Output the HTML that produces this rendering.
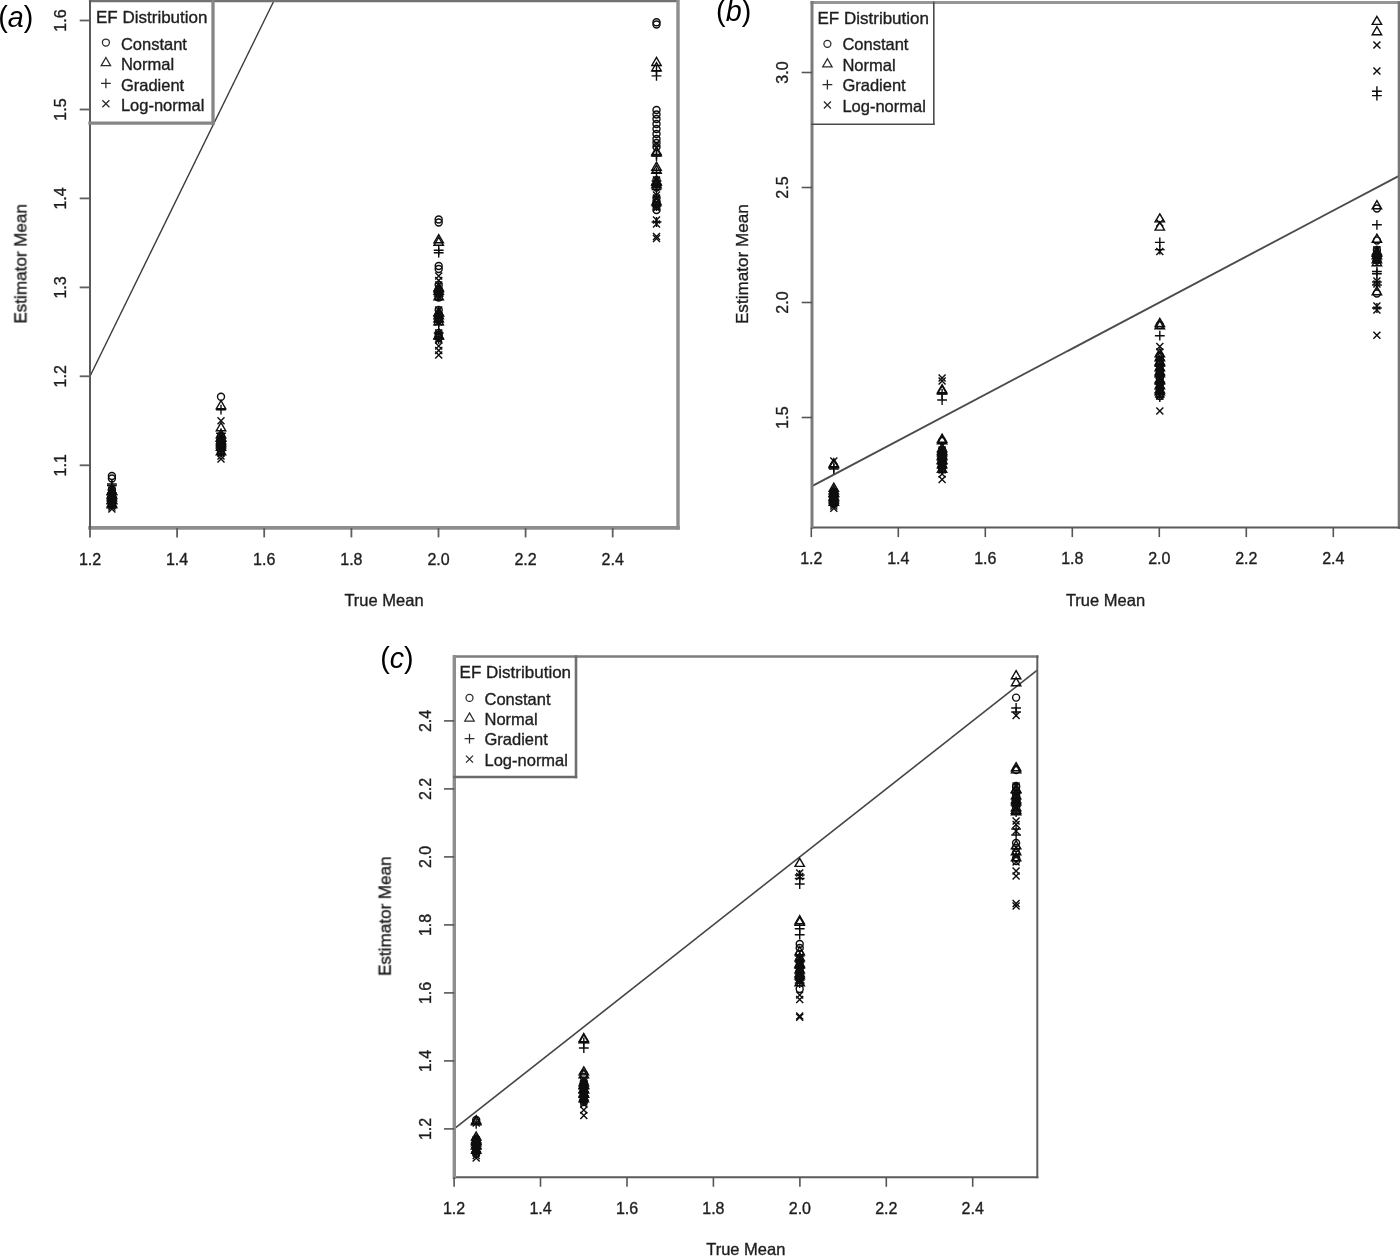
<!DOCTYPE html>
<html lang="en"><head><meta charset="utf-8"><title>Estimator Mean vs True Mean</title>
<style>
html,body{margin:0;padding:0;background:#fff;}
body{width:1400px;height:1257px;overflow:hidden;}
svg{display:block;}
</style></head>
<body>
<svg width="1400" height="1257" viewBox="0 0 1400 1257">
<defs><filter id="bl" x="0" y="0" width="1400" height="1257" filterUnits="userSpaceOnUse"><feGaussianBlur stdDeviation="0.75"/></filter></defs>
<rect width="1400" height="1257" fill="#fff"/>
<g filter="url(#bl)" fill="#1e1e1e" stroke="#1e1e1e" stroke-width="0.35" font-family="Liberation Sans, Arial, Helvetica, sans-serif">
<line x1="90.0" y1="376.3" x2="273.7" y2="1.2" stroke="#3a3a3a" stroke-width="1.4"/>
<line x1="90.0" y1="1.2" x2="678.0" y2="1.2" stroke="#727272" stroke-width="2.2" stroke-linecap="square"/>
<line x1="678.0" y1="1.2" x2="678.0" y2="527.9" stroke="#8e8e8e" stroke-width="3.4" stroke-linecap="square"/>
<line x1="90.0" y1="527.9" x2="678.0" y2="527.9" stroke="#8e8e8e" stroke-width="3.6" stroke-linecap="square"/>
<line x1="90.0" y1="1.2" x2="90.0" y2="527.9" stroke="#5a5a5a" stroke-width="2.0" stroke-linecap="square"/>
<line x1="90.0" y1="527.9" x2="90.0" y2="537.4" stroke="#5e5e5e" stroke-width="1.8"/>
<text x="90.0" y="564.5" text-anchor="middle" font-size="16">1.2</text>
<line x1="177.1" y1="527.9" x2="177.1" y2="537.4" stroke="#5e5e5e" stroke-width="1.8"/>
<text x="177.1" y="564.5" text-anchor="middle" font-size="16">1.4</text>
<line x1="264.2" y1="527.9" x2="264.2" y2="537.4" stroke="#5e5e5e" stroke-width="1.8"/>
<text x="264.2" y="564.5" text-anchor="middle" font-size="16">1.6</text>
<line x1="351.4" y1="527.9" x2="351.4" y2="537.4" stroke="#5e5e5e" stroke-width="1.8"/>
<text x="351.4" y="564.5" text-anchor="middle" font-size="16">1.8</text>
<line x1="438.5" y1="527.9" x2="438.5" y2="537.4" stroke="#5e5e5e" stroke-width="1.8"/>
<text x="438.5" y="564.5" text-anchor="middle" font-size="16">2.0</text>
<line x1="525.6" y1="527.9" x2="525.6" y2="537.4" stroke="#5e5e5e" stroke-width="1.8"/>
<text x="525.6" y="564.5" text-anchor="middle" font-size="16">2.2</text>
<line x1="612.7" y1="527.9" x2="612.7" y2="537.4" stroke="#5e5e5e" stroke-width="1.8"/>
<text x="612.7" y="564.5" text-anchor="middle" font-size="16">2.4</text>
<line x1="79.7" y1="465.3" x2="90.0" y2="465.3" stroke="#5e5e5e" stroke-width="1.8"/>
<text transform="translate(66.2 465.3) rotate(-90)" text-anchor="middle" font-size="16">1.1</text>
<line x1="79.7" y1="376.3" x2="90.0" y2="376.3" stroke="#5e5e5e" stroke-width="1.8"/>
<text transform="translate(66.2 376.3) rotate(-90)" text-anchor="middle" font-size="16">1.2</text>
<line x1="79.7" y1="287.4" x2="90.0" y2="287.4" stroke="#5e5e5e" stroke-width="1.8"/>
<text transform="translate(66.2 287.4) rotate(-90)" text-anchor="middle" font-size="16">1.3</text>
<line x1="79.7" y1="198.4" x2="90.0" y2="198.4" stroke="#5e5e5e" stroke-width="1.8"/>
<text transform="translate(66.2 198.4) rotate(-90)" text-anchor="middle" font-size="16">1.4</text>
<line x1="79.7" y1="109.5" x2="90.0" y2="109.5" stroke="#5e5e5e" stroke-width="1.8"/>
<text transform="translate(66.2 109.5) rotate(-90)" text-anchor="middle" font-size="16">1.5</text>
<line x1="79.7" y1="20.5" x2="90.0" y2="20.5" stroke="#5e5e5e" stroke-width="1.8"/>
<text transform="translate(66.2 20.5) rotate(-90)" text-anchor="middle" font-size="16">1.6</text>
<text x="384.0" y="605.9" text-anchor="middle" font-size="16.5">True Mean</text>
<text transform="translate(26.4 263.8) rotate(-90)" text-anchor="middle" font-size="17.1">Estimator Mean</text>
<line x1="213.0" y1="1.2" x2="213.0" y2="123.2" stroke="#868686" stroke-width="3.3" stroke-linecap="square"/>
<line x1="90.0" y1="123.2" x2="213.0" y2="123.2" stroke="#868686" stroke-width="3.3" stroke-linecap="square"/>
<text x="96.0" y="23.3" font-size="17">EF Distribution</text>
<g fill="none" stroke="#2a2a2a" stroke-width="1.25">
<circle cx="105.9" cy="42.5" r="3.50"/>
<path d="M105.9 57.5L110.6 65.6L101.2 65.6Z"/>
<path d="M101.0 83.3H110.8M105.9 78.4V88.2"/>
<path d="M102.4 100.2L109.4 107.2M102.4 107.2L109.4 100.2"/>
</g>
<text x="120.9" y="50.0" font-size="16.5">Constant</text>
<text x="120.9" y="70.4" font-size="16.5">Normal</text>
<text x="120.9" y="90.8" font-size="16.5">Gradient</text>
<text x="120.9" y="111.2" font-size="16.5">Log-normal</text>
<g fill="none" stroke="#0c0c0c" stroke-width="1.4">
<circle cx="111.9" cy="490.0" r="3.50"/><path d="M108.4 486.5L115.4 493.5M108.4 493.5L115.4 486.5"/><path d="M111.9 486.1L116.6 494.2L107.2 494.2Z"/><path d="M107.0 493.0H116.8M111.9 488.1V497.9"/><path d="M108.4 489.5L115.4 496.5M108.4 496.5L115.4 489.5"/><circle cx="111.9" cy="494.5" r="3.50"/><path d="M111.9 490.6L116.6 498.7L107.2 498.7Z"/><path d="M108.4 492.5L115.4 499.5M108.4 499.5L115.4 492.5"/><path d="M107.0 497.5H116.8M111.9 492.6V502.4"/><circle cx="111.9" cy="499.0" r="3.50"/><path d="M108.4 495.5L115.4 502.5M108.4 502.5L115.4 495.5"/><path d="M111.9 495.1L116.6 503.2L107.2 503.2Z"/><path d="M107.0 502.0H116.8M111.9 497.1V506.9"/><path d="M108.4 498.5L115.4 505.5M108.4 505.5L115.4 498.5"/><circle cx="111.9" cy="503.5" r="3.50"/><path d="M111.9 499.6L116.6 507.7L107.2 507.7Z"/><path d="M108.4 501.5L115.4 508.5M108.4 508.5L115.4 501.5"/><circle cx="111.9" cy="476.0" r="3.50"/><circle cx="111.9" cy="478.5" r="3.50"/><circle cx="111.9" cy="490.0" r="3.50"/><circle cx="111.9" cy="494.0" r="3.50"/><circle cx="111.9" cy="498.0" r="3.50"/><circle cx="111.9" cy="502.0" r="3.50"/><path d="M111.9 486.6L116.6 494.7L107.2 494.7Z"/><path d="M111.9 489.6L116.6 497.7L107.2 497.7Z"/><path d="M111.9 492.6L116.6 500.7L107.2 500.7Z"/><path d="M111.9 495.6L116.6 503.7L107.2 503.7Z"/><path d="M111.9 498.6L116.6 506.7L107.2 506.7Z"/><path d="M107.0 484.0H116.8M111.9 479.1V488.9"/><path d="M107.0 485.5H116.8M111.9 480.6V490.4"/><path d="M107.0 497.0H116.8M111.9 492.1V501.9"/><path d="M107.0 500.0H116.8M111.9 495.1V504.9"/><path d="M107.0 503.0H116.8M111.9 498.1V507.9"/><path d="M108.4 495.5L115.4 502.5M108.4 502.5L115.4 495.5"/><path d="M108.4 498.5L115.4 505.5M108.4 505.5L115.4 498.5"/><path d="M108.4 501.5L115.4 508.5M108.4 508.5L115.4 501.5"/><path d="M108.4 503.5L115.4 510.5M108.4 510.5L115.4 503.5"/><path d="M108.4 505.5L115.4 512.5M108.4 512.5L115.4 505.5"/>
<circle cx="221.0" cy="437.0" r="3.50"/><path d="M217.5 433.5L224.5 440.5M217.5 440.5L224.5 433.5"/><path d="M221.0 433.1L225.7 441.2L216.3 441.2Z"/><path d="M216.1 440.0H225.9M221.0 435.1V444.9"/><path d="M217.5 436.5L224.5 443.5M217.5 443.5L224.5 436.5"/><circle cx="221.0" cy="441.5" r="3.50"/><path d="M221.0 437.6L225.7 445.7L216.3 445.7Z"/><path d="M217.5 439.5L224.5 446.5M217.5 446.5L224.5 439.5"/><path d="M216.1 444.5H225.9M221.0 439.6V449.4"/><circle cx="221.0" cy="446.0" r="3.50"/><path d="M217.5 442.5L224.5 449.5M217.5 449.5L224.5 442.5"/><path d="M221.0 442.1L225.7 450.2L216.3 450.2Z"/><path d="M216.1 449.0H225.9M221.0 444.1V453.9"/><path d="M217.5 445.5L224.5 452.5M217.5 452.5L224.5 445.5"/><circle cx="221.0" cy="450.5" r="3.50"/><path d="M221.0 446.6L225.7 454.7L216.3 454.7Z"/><path d="M217.5 448.5L224.5 455.5M217.5 455.5L224.5 448.5"/><circle cx="221.0" cy="396.8" r="3.50"/><circle cx="221.0" cy="436.0" r="3.50"/><circle cx="221.0" cy="440.0" r="3.50"/><circle cx="221.0" cy="444.0" r="3.50"/><circle cx="221.0" cy="448.0" r="3.50"/><circle cx="221.0" cy="452.0" r="3.50"/><path d="M221.0 400.6L225.7 408.7L216.3 408.7Z"/><path d="M221.0 422.6L225.7 430.7L216.3 430.7Z"/><path d="M221.0 429.6L225.7 437.7L216.3 437.7Z"/><path d="M221.0 432.6L225.7 440.7L216.3 440.7Z"/><path d="M221.0 435.6L225.7 443.7L216.3 443.7Z"/><path d="M221.0 439.6L225.7 447.7L216.3 447.7Z"/><path d="M216.1 409.7H225.9M221.0 404.8V414.6"/><path d="M216.1 433.3H225.9M221.0 428.4V438.2"/><path d="M216.1 438.0H225.9M221.0 433.1V442.9"/><path d="M216.1 442.0H225.9M221.0 437.1V446.9"/><path d="M216.1 446.0H225.9M221.0 441.1V450.9"/><path d="M216.1 450.0H225.9M221.0 445.1V454.9"/><path d="M217.5 417.3L224.5 424.3M217.5 424.3L224.5 417.3"/><path d="M217.5 442.5L224.5 449.5M217.5 449.5L224.5 442.5"/><path d="M217.5 446.5L224.5 453.5M217.5 453.5L224.5 446.5"/><path d="M217.5 449.5L224.5 456.5M217.5 456.5L224.5 449.5"/><path d="M217.5 452.5L224.5 459.5M217.5 459.5L224.5 452.5"/><path d="M217.5 455.5L224.5 462.5M217.5 462.5L224.5 455.5"/>
<circle cx="438.7" cy="285.0" r="3.50"/><path d="M435.2 281.5L442.2 288.5M435.2 288.5L442.2 281.5"/><path d="M438.7 282.6L443.4 290.7L434.0 290.7Z"/><path d="M433.8 291.0H443.6M438.7 286.1V295.9"/><path d="M435.2 287.5L442.2 294.5M435.2 294.5L442.2 287.5"/><circle cx="438.7" cy="294.0" r="3.50"/><path d="M438.7 291.6L443.4 299.7L434.0 299.7Z"/><path d="M435.2 293.5L442.2 300.5M435.2 300.5L442.2 293.5"/><circle cx="438.7" cy="310.0" r="3.50"/><path d="M435.2 306.5L442.2 313.5M435.2 313.5L442.2 306.5"/><path d="M438.7 307.6L443.4 315.7L434.0 315.7Z"/><path d="M433.8 316.0H443.6M438.7 311.1V320.9"/><path d="M435.2 312.5L442.2 319.5M435.2 319.5L442.2 312.5"/><circle cx="438.7" cy="319.0" r="3.50"/><path d="M438.7 316.6L443.4 324.7L434.0 324.7Z"/><path d="M435.2 318.5L442.2 325.5M435.2 325.5L442.2 318.5"/><circle cx="438.7" cy="333.0" r="3.50"/><path d="M435.2 329.5L442.2 336.5M435.2 336.5L442.2 329.5"/><path d="M438.7 330.6L443.4 338.7L434.0 338.7Z"/><path d="M433.8 339.0H443.6M438.7 334.1V343.9"/><path d="M435.2 335.5L442.2 342.5M435.2 342.5L442.2 335.5"/><circle cx="438.7" cy="219.5" r="3.50"/><circle cx="438.7" cy="222.5" r="3.50"/><circle cx="438.7" cy="266.0" r="3.50"/><circle cx="438.7" cy="269.0" r="3.50"/><circle cx="438.7" cy="290.0" r="3.50"/><circle cx="438.7" cy="294.0" r="3.50"/><circle cx="438.7" cy="297.5" r="3.50"/><circle cx="438.7" cy="315.0" r="3.50"/><circle cx="438.7" cy="320.0" r="3.50"/><circle cx="438.7" cy="335.0" r="3.50"/><circle cx="438.7" cy="338.0" r="3.50"/><path d="M438.7 234.6L443.4 242.7L434.0 242.7Z"/><path d="M438.7 237.2L443.4 245.3L434.0 245.3Z"/><path d="M438.7 283.6L443.4 291.7L434.0 291.7Z"/><path d="M438.7 286.1L443.4 294.2L434.0 294.2Z"/><path d="M438.7 307.6L443.4 315.7L434.0 315.7Z"/><path d="M438.7 310.6L443.4 318.7L434.0 318.7Z"/><path d="M438.7 313.6L443.4 321.7L434.0 321.7Z"/><path d="M438.7 330.6L443.4 338.7L434.0 338.7Z"/><path d="M433.8 250.2H443.6M438.7 245.3V255.1"/><path d="M433.8 252.7H443.6M438.7 247.8V257.6"/><path d="M433.8 292.0H443.6M438.7 287.1V296.9"/><path d="M433.8 296.0H443.6M438.7 291.1V300.9"/><path d="M433.8 318.0H443.6M438.7 313.1V322.9"/><path d="M433.8 322.0H443.6M438.7 317.1V326.9"/><path d="M433.8 324.6H443.6M438.7 319.7V329.5"/><path d="M433.8 333.0H443.6M438.7 328.1V337.9"/><path d="M435.2 272.5L442.2 279.5M435.2 279.5L442.2 272.5"/><path d="M435.2 277.0L442.2 284.0M435.2 284.0L442.2 277.0"/><path d="M435.2 336.5L442.2 343.5M435.2 343.5L442.2 336.5"/><path d="M435.2 342.5L442.2 349.5M435.2 349.5L442.2 342.5"/><path d="M435.2 347.0L442.2 354.0M435.2 354.0L442.2 347.0"/><path d="M435.2 351.5L442.2 358.5M435.2 358.5L442.2 351.5"/>
<circle cx="656.5" cy="180.0" r="3.50"/><path d="M653.0 176.5L660.0 183.5M653.0 183.5L660.0 176.5"/><path d="M656.5 177.1L661.2 185.2L651.8 185.2Z"/><path d="M651.6 185.0H661.4M656.5 180.1V189.9"/><path d="M653.0 181.5L660.0 188.5M653.0 188.5L660.0 181.5"/><circle cx="656.5" cy="187.5" r="3.50"/><circle cx="656.5" cy="198.0" r="3.50"/><path d="M653.0 194.5L660.0 201.5M653.0 201.5L660.0 194.5"/><path d="M656.5 196.6L661.2 204.7L651.8 204.7Z"/><path d="M651.6 206.0H661.4M656.5 201.1V210.9"/><path d="M653.0 202.5L660.0 209.5M653.0 209.5L660.0 202.5"/><circle cx="656.5" cy="210.0" r="3.50"/><circle cx="656.5" cy="22.2" r="3.50"/><circle cx="656.5" cy="24.5" r="3.50"/><circle cx="656.5" cy="110.0" r="3.50"/><circle cx="656.5" cy="114.5" r="3.50"/><circle cx="656.5" cy="119.0" r="3.50"/><circle cx="656.5" cy="124.0" r="3.50"/><circle cx="656.5" cy="129.0" r="3.50"/><circle cx="656.5" cy="134.0" r="3.50"/><circle cx="656.5" cy="139.0" r="3.50"/><circle cx="656.5" cy="143.0" r="3.50"/><circle cx="656.5" cy="147.0" r="3.50"/><circle cx="656.5" cy="202.0" r="3.50"/><circle cx="656.5" cy="206.0" r="3.50"/><path d="M656.5 57.4L661.2 65.5L651.8 65.5Z"/><path d="M656.5 62.6L661.2 70.7L651.8 70.7Z"/><path d="M656.5 146.6L661.2 154.7L651.8 154.7Z"/><path d="M656.5 147.8L661.2 155.9L651.8 155.9Z"/><path d="M656.5 162.1L661.2 170.2L651.8 170.2Z"/><path d="M656.5 165.1L661.2 173.2L651.8 173.2Z"/><path d="M656.5 176.6L661.2 184.7L651.8 184.7Z"/><path d="M656.5 179.6L661.2 187.7L651.8 187.7Z"/><path d="M651.6 71.0H661.4M656.5 66.1V75.9"/><path d="M651.6 75.9H661.4M656.5 71.0V80.8"/><path d="M651.6 154.5H661.4M656.5 149.6V159.4"/><path d="M651.6 156.0H661.4M656.5 151.1V160.9"/><path d="M651.6 172.5H661.4M656.5 167.6V177.4"/><path d="M651.6 181.0H661.4M656.5 176.1V185.9"/><path d="M651.6 184.0H661.4M656.5 179.1V188.9"/><path d="M651.6 187.0H661.4M656.5 182.1V191.9"/><path d="M651.6 189.5H661.4M656.5 184.6V194.4"/><path d="M651.6 222.0H661.4M656.5 217.1V226.9"/><path d="M653.0 140.5L660.0 147.5M653.0 147.5L660.0 140.5"/><path d="M653.0 191.5L660.0 198.5M653.0 198.5L660.0 191.5"/><path d="M653.0 195.5L660.0 202.5M653.0 202.5L660.0 195.5"/><path d="M653.0 200.5L660.0 207.5M653.0 207.5L660.0 200.5"/><path d="M653.0 204.5L660.0 211.5M653.0 211.5L660.0 204.5"/><path d="M653.0 216.5L660.0 223.5M653.0 223.5L660.0 216.5"/><path d="M653.0 220.5L660.0 227.5M653.0 227.5L660.0 220.5"/><path d="M653.0 233.0L660.0 240.0M653.0 240.0L660.0 233.0"/><path d="M653.0 235.0L660.0 242.0M653.0 242.0L660.0 235.0"/>
</g>
<line x1="811.3" y1="486.5" x2="1399.0" y2="175.8" stroke="#4c4c4c" stroke-width="1.9"/>
<line x1="812.0" y1="2.5" x2="1399.0" y2="2.5" stroke="#959595" stroke-width="3.0" stroke-linecap="square"/>
<line x1="1399.0" y1="2.5" x2="1399.0" y2="527.6" stroke="#777" stroke-width="2.6" stroke-linecap="square"/>
<line x1="812.0" y1="527.6" x2="1399.0" y2="527.6" stroke="#5a5a5a" stroke-width="2.0" stroke-linecap="square"/>
<line x1="812.0" y1="2.5" x2="812.0" y2="527.6" stroke="#7c7c7c" stroke-width="3.0" stroke-linecap="square"/>
<line x1="811.3" y1="527.6" x2="811.3" y2="537.1" stroke="#555" stroke-width="1.6"/>
<text x="811.3" y="564.2" text-anchor="middle" font-size="16">1.2</text>
<line x1="898.3" y1="527.6" x2="898.3" y2="537.1" stroke="#555" stroke-width="1.6"/>
<text x="898.3" y="564.2" text-anchor="middle" font-size="16">1.4</text>
<line x1="985.3" y1="527.6" x2="985.3" y2="537.1" stroke="#555" stroke-width="1.6"/>
<text x="985.3" y="564.2" text-anchor="middle" font-size="16">1.6</text>
<line x1="1072.3" y1="527.6" x2="1072.3" y2="537.1" stroke="#555" stroke-width="1.6"/>
<text x="1072.3" y="564.2" text-anchor="middle" font-size="16">1.8</text>
<line x1="1159.3" y1="527.6" x2="1159.3" y2="537.1" stroke="#555" stroke-width="1.6"/>
<text x="1159.3" y="564.2" text-anchor="middle" font-size="16">2.0</text>
<line x1="1246.3" y1="527.6" x2="1246.3" y2="537.1" stroke="#555" stroke-width="1.6"/>
<text x="1246.3" y="564.2" text-anchor="middle" font-size="16">2.2</text>
<line x1="1333.3" y1="527.6" x2="1333.3" y2="537.1" stroke="#555" stroke-width="1.6"/>
<text x="1333.3" y="564.2" text-anchor="middle" font-size="16">2.4</text>
<line x1="801.7" y1="417.5" x2="812.0" y2="417.5" stroke="#555" stroke-width="1.6"/>
<text transform="translate(788.2 417.5) rotate(-90)" text-anchor="middle" font-size="16">1.5</text>
<line x1="801.7" y1="302.5" x2="812.0" y2="302.5" stroke="#555" stroke-width="1.6"/>
<text transform="translate(788.2 302.5) rotate(-90)" text-anchor="middle" font-size="16">2.0</text>
<line x1="801.7" y1="187.5" x2="812.0" y2="187.5" stroke="#555" stroke-width="1.6"/>
<text transform="translate(788.2 187.5) rotate(-90)" text-anchor="middle" font-size="16">2.5</text>
<line x1="801.7" y1="72.5" x2="812.0" y2="72.5" stroke="#555" stroke-width="1.6"/>
<text transform="translate(788.2 72.5) rotate(-90)" text-anchor="middle" font-size="16">3.0</text>
<text x="1105.5" y="605.6" text-anchor="middle" font-size="16.5">True Mean</text>
<text transform="translate(748.4 264.2) rotate(-90)" text-anchor="middle" font-size="17.1">Estimator Mean</text>
<line x1="933.8" y1="2.5" x2="933.8" y2="124.2" stroke="#4a4a4a" stroke-width="1.6" stroke-linecap="square"/>
<line x1="812.0" y1="124.2" x2="933.8" y2="124.2" stroke="#4a4a4a" stroke-width="1.6" stroke-linecap="square"/>
<text x="817.5" y="23.7" font-size="17">EF Distribution</text>
<g fill="none" stroke="#2a2a2a" stroke-width="1.25">
<circle cx="827.4" cy="43.8" r="3.50"/>
<path d="M827.4 58.8L832.1 66.9L822.7 66.9Z"/>
<path d="M822.5 84.6H832.3M827.4 79.7V89.5"/>
<path d="M823.9 101.5L830.9 108.5M823.9 108.5L830.9 101.5"/>
</g>
<text x="842.4" y="50.4" font-size="16.5">Constant</text>
<text x="842.4" y="70.8" font-size="16.5">Normal</text>
<text x="842.4" y="91.2" font-size="16.5">Gradient</text>
<text x="842.4" y="111.6" font-size="16.5">Log-normal</text>
<g fill="none" stroke="#0c0c0c" stroke-width="1.4">
<circle cx="833.8" cy="492.0" r="3.50"/><path d="M830.3 488.5L837.3 495.5M830.3 495.5L837.3 488.5"/><path d="M833.8 488.1L838.5 496.2L829.1 496.2Z"/><path d="M828.9 495.0H838.7M833.8 490.1V499.9"/><path d="M830.3 491.5L837.3 498.5M830.3 498.5L837.3 491.5"/><circle cx="833.8" cy="496.5" r="3.50"/><path d="M833.8 492.6L838.5 500.7L829.1 500.7Z"/><path d="M830.3 494.5L837.3 501.5M830.3 501.5L837.3 494.5"/><path d="M828.9 499.5H838.7M833.8 494.6V504.4"/><circle cx="833.8" cy="501.0" r="3.50"/><path d="M830.3 497.5L837.3 504.5M830.3 504.5L837.3 497.5"/><path d="M833.8 497.1L838.5 505.2L829.1 505.2Z"/><path d="M828.9 504.0H838.7M833.8 499.1V508.9"/><path d="M830.3 500.5L837.3 507.5M830.3 507.5L837.3 500.5"/><circle cx="833.8" cy="492.0" r="3.50"/><circle cx="833.8" cy="496.0" r="3.50"/><circle cx="833.8" cy="500.0" r="3.50"/><circle cx="833.8" cy="503.0" r="3.50"/><path d="M833.8 458.6L838.5 466.7L829.1 466.7Z"/><path d="M833.8 459.8L838.5 467.9L829.1 467.9Z"/><path d="M833.8 483.1L838.5 491.2L829.1 491.2Z"/><path d="M833.8 485.6L838.5 493.7L829.1 493.7Z"/><path d="M833.8 488.6L838.5 496.7L829.1 496.7Z"/><path d="M833.8 491.6L838.5 499.7L829.1 499.7Z"/><path d="M833.8 494.6L838.5 502.7L829.1 502.7Z"/><path d="M828.9 467.5H838.7M833.8 462.6V472.4"/><path d="M828.9 469.0H838.7M833.8 464.1V473.9"/><path d="M828.9 497.0H838.7M833.8 492.1V501.9"/><path d="M828.9 501.0H838.7M833.8 496.1V505.9"/><path d="M828.9 504.0H838.7M833.8 499.1V508.9"/><path d="M830.3 457.5L837.3 464.5M830.3 464.5L837.3 457.5"/><path d="M830.3 496.5L837.3 503.5M830.3 503.5L837.3 496.5"/><path d="M830.3 499.5L837.3 506.5M830.3 506.5L837.3 499.5"/><path d="M830.3 502.5L837.3 509.5M830.3 509.5L837.3 502.5"/><path d="M830.3 504.8L837.3 511.8M830.3 511.8L837.3 504.8"/>
<circle cx="942.1" cy="450.0" r="3.50"/><path d="M938.6 446.5L945.6 453.5M938.6 453.5L945.6 446.5"/><path d="M942.1 446.1L946.8 454.2L937.4 454.2Z"/><path d="M937.2 453.0H947.0M942.1 448.1V457.9"/><path d="M938.6 449.5L945.6 456.5M938.6 456.5L945.6 449.5"/><circle cx="942.1" cy="454.5" r="3.50"/><path d="M942.1 450.6L946.8 458.7L937.4 458.7Z"/><path d="M938.6 452.5L945.6 459.5M938.6 459.5L945.6 452.5"/><path d="M937.2 457.5H947.0M942.1 452.6V462.4"/><circle cx="942.1" cy="459.0" r="3.50"/><path d="M938.6 455.5L945.6 462.5M938.6 462.5L945.6 455.5"/><path d="M942.1 455.1L946.8 463.2L937.4 463.2Z"/><path d="M937.2 462.0H947.0M942.1 457.1V466.9"/><path d="M938.6 458.5L945.6 465.5M938.6 465.5L945.6 458.5"/><circle cx="942.1" cy="463.5" r="3.50"/><path d="M942.1 459.6L946.8 467.7L937.4 467.7Z"/><path d="M938.6 461.5L945.6 468.5M938.6 468.5L945.6 461.5"/><path d="M937.2 466.5H947.0M942.1 461.6V471.4"/><circle cx="942.1" cy="468.0" r="3.50"/><path d="M938.6 464.5L945.6 471.5M938.6 471.5L945.6 464.5"/><path d="M942.1 464.1L946.8 472.2L937.4 472.2Z"/><circle cx="942.1" cy="441.0" r="3.50"/><circle cx="942.1" cy="450.0" r="3.50"/><circle cx="942.1" cy="454.0" r="3.50"/><circle cx="942.1" cy="458.0" r="3.50"/><circle cx="942.1" cy="462.0" r="3.50"/><circle cx="942.1" cy="466.0" r="3.50"/><path d="M942.1 384.6L946.8 392.7L937.4 392.7Z"/><path d="M942.1 385.8L946.8 393.9L937.4 393.9Z"/><path d="M942.1 434.1L946.8 442.2L937.4 442.2Z"/><path d="M942.1 435.6L946.8 443.7L937.4 443.7Z"/><path d="M942.1 443.6L946.8 451.7L937.4 451.7Z"/><path d="M942.1 447.6L946.8 455.7L937.4 455.7Z"/><path d="M942.1 451.6L946.8 459.7L937.4 459.7Z"/><path d="M942.1 455.6L946.8 463.7L937.4 463.7Z"/><path d="M937.2 394.0H947.0M942.1 389.1V398.9"/><path d="M937.2 400.0H947.0M942.1 395.1V404.9"/><path d="M937.2 452.0H947.0M942.1 447.1V456.9"/><path d="M937.2 456.0H947.0M942.1 451.1V460.9"/><path d="M937.2 460.0H947.0M942.1 455.1V464.9"/><path d="M937.2 464.0H947.0M942.1 459.1V468.9"/><path d="M937.2 468.0H947.0M942.1 463.1V472.9"/><path d="M938.6 374.5L945.6 381.5M938.6 381.5L945.6 374.5"/><path d="M938.6 377.5L945.6 384.5M938.6 384.5L945.6 377.5"/><path d="M938.6 458.5L945.6 465.5M938.6 465.5L945.6 458.5"/><path d="M938.6 462.5L945.6 469.5M938.6 469.5L945.6 462.5"/><path d="M938.6 466.5L945.6 473.5M938.6 473.5L945.6 466.5"/><path d="M938.6 470.5L945.6 477.5M938.6 477.5L945.6 470.5"/><path d="M938.6 475.9L945.6 482.9M938.6 482.9L945.6 475.9"/>
<circle cx="1159.8" cy="360.0" r="3.50"/><path d="M1156.3 356.5L1163.3 363.5M1156.3 363.5L1163.3 356.5"/><path d="M1159.8 357.6L1164.5 365.7L1155.1 365.7Z"/><path d="M1154.9 366.0H1164.7M1159.8 361.1V370.9"/><path d="M1156.3 362.5L1163.3 369.5M1156.3 369.5L1163.3 362.5"/><circle cx="1159.8" cy="369.0" r="3.50"/><path d="M1159.8 366.6L1164.5 374.7L1155.1 374.7Z"/><path d="M1156.3 368.5L1163.3 375.5M1156.3 375.5L1163.3 368.5"/><path d="M1154.9 375.0H1164.7M1159.8 370.1V379.9"/><circle cx="1159.8" cy="378.0" r="3.50"/><path d="M1156.3 374.5L1163.3 381.5M1156.3 381.5L1163.3 374.5"/><path d="M1159.8 375.6L1164.5 383.7L1155.1 383.7Z"/><path d="M1154.9 384.0H1164.7M1159.8 379.1V388.9"/><path d="M1156.3 380.5L1163.3 387.5M1156.3 387.5L1163.3 380.5"/><circle cx="1159.8" cy="387.0" r="3.50"/><path d="M1159.8 384.6L1164.5 392.7L1155.1 392.7Z"/><path d="M1156.3 386.5L1163.3 393.5M1156.3 393.5L1163.3 386.5"/><path d="M1154.9 393.0H1164.7M1159.8 388.1V397.9"/><circle cx="1159.8" cy="396.0" r="3.50"/><path d="M1156.3 392.5L1163.3 399.5M1156.3 399.5L1163.3 392.5"/><circle cx="1159.8" cy="325.0" r="3.50"/><circle cx="1159.8" cy="356.0" r="3.50"/><circle cx="1159.8" cy="364.0" r="3.50"/><circle cx="1159.8" cy="372.0" r="3.50"/><circle cx="1159.8" cy="378.0" r="3.50"/><circle cx="1159.8" cy="384.0" r="3.50"/><circle cx="1159.8" cy="390.0" r="3.50"/><circle cx="1159.8" cy="394.0" r="3.50"/><path d="M1159.8 213.8L1164.5 221.9L1155.1 221.9Z"/><path d="M1159.8 222.0L1164.5 230.1L1155.1 230.1Z"/><path d="M1159.8 318.4L1164.5 326.5L1155.1 326.5Z"/><path d="M1159.8 320.6L1164.5 328.7L1155.1 328.7Z"/><path d="M1159.8 348.6L1164.5 356.7L1155.1 356.7Z"/><path d="M1159.8 352.6L1164.5 360.7L1155.1 360.7Z"/><path d="M1159.8 356.6L1164.5 364.7L1155.1 364.7Z"/><path d="M1159.8 362.6L1164.5 370.7L1155.1 370.7Z"/><path d="M1159.8 368.6L1164.5 376.7L1155.1 376.7Z"/><path d="M1159.8 374.6L1164.5 382.7L1155.1 382.7Z"/><path d="M1159.8 380.6L1164.5 388.7L1155.1 388.7Z"/><path d="M1159.8 386.6L1164.5 394.7L1155.1 394.7Z"/><path d="M1154.9 242.4H1164.7M1159.8 237.5V247.3"/><path d="M1154.9 249.6H1164.7M1159.8 244.7V254.5"/><path d="M1154.9 335.7H1164.7M1159.8 330.8V340.6"/><path d="M1154.9 360.0H1164.7M1159.8 355.1V364.9"/><path d="M1154.9 366.0H1164.7M1159.8 361.1V370.9"/><path d="M1154.9 370.0H1164.7M1159.8 365.1V374.9"/><path d="M1154.9 376.0H1164.7M1159.8 371.1V380.9"/><path d="M1154.9 382.0H1164.7M1159.8 377.1V386.9"/><path d="M1154.9 388.0H1164.7M1159.8 383.1V392.9"/><path d="M1154.9 393.0H1164.7M1159.8 388.1V397.9"/><path d="M1154.9 397.0H1164.7M1159.8 392.1V401.9"/><path d="M1156.3 219.5L1163.3 226.5M1156.3 226.5L1163.3 219.5"/><path d="M1156.3 248.0L1163.3 255.0M1156.3 255.0L1163.3 248.0"/><path d="M1156.3 343.0L1163.3 350.0M1156.3 350.0L1163.3 343.0"/><path d="M1156.3 348.5L1163.3 355.5M1156.3 355.5L1163.3 348.5"/><path d="M1156.3 356.5L1163.3 363.5M1156.3 363.5L1163.3 356.5"/><path d="M1156.3 364.5L1163.3 371.5M1156.3 371.5L1163.3 364.5"/><path d="M1156.3 372.5L1163.3 379.5M1156.3 379.5L1163.3 372.5"/><path d="M1156.3 380.5L1163.3 387.5M1156.3 387.5L1163.3 380.5"/><path d="M1156.3 388.5L1163.3 395.5M1156.3 395.5L1163.3 388.5"/><path d="M1156.3 392.5L1163.3 399.5M1156.3 399.5L1163.3 392.5"/><path d="M1156.3 407.6L1163.3 414.6M1156.3 414.6L1163.3 407.6"/>
<circle cx="1376.9" cy="250.0" r="3.50"/><path d="M1373.4 246.5L1380.4 253.5M1373.4 253.5L1380.4 246.5"/><path d="M1376.9 248.1L1381.6 256.2L1372.2 256.2Z"/><path d="M1372.0 257.0H1381.8M1376.9 252.1V261.9"/><path d="M1373.4 253.5L1380.4 260.5M1373.4 260.5L1380.4 253.5"/><circle cx="1376.9" cy="260.5" r="3.50"/><circle cx="1376.9" cy="208.5" r="3.50"/><circle cx="1376.9" cy="240.5" r="3.50"/><circle cx="1376.9" cy="254.0" r="3.50"/><circle cx="1376.9" cy="258.0" r="3.50"/><circle cx="1376.9" cy="293.5" r="3.50"/><path d="M1376.9 16.3L1381.6 24.4L1372.2 24.4Z"/><path d="M1376.9 26.6L1381.6 34.7L1372.2 34.7Z"/><path d="M1376.9 200.6L1381.6 208.7L1372.2 208.7Z"/><path d="M1376.9 234.1L1381.6 242.2L1372.2 242.2Z"/><path d="M1376.9 246.6L1381.6 254.7L1372.2 254.7Z"/><path d="M1376.9 250.6L1381.6 258.7L1372.2 258.7Z"/><path d="M1376.9 254.6L1381.6 262.7L1372.2 262.7Z"/><path d="M1376.9 257.6L1381.6 265.7L1372.2 265.7Z"/><path d="M1376.9 286.6L1381.6 294.7L1372.2 294.7Z"/><path d="M1372.0 91.2H1381.8M1376.9 86.3V96.1"/><path d="M1372.0 95.6H1381.8M1376.9 90.7V100.5"/><path d="M1372.0 224.8H1381.8M1376.9 219.9V229.7"/><path d="M1372.0 255.0H1381.8M1376.9 250.1V259.9"/><path d="M1372.0 261.0H1381.8M1376.9 256.1V265.9"/><path d="M1372.0 271.5H1381.8M1376.9 266.6V276.4"/><path d="M1372.0 273.7H1381.8M1376.9 268.8V278.6"/><path d="M1372.0 282.0H1381.8M1376.9 277.1V286.9"/><path d="M1372.0 285.0H1381.8M1376.9 280.1V289.9"/><path d="M1372.0 308.0H1381.8M1376.9 303.1V312.9"/><path d="M1373.4 41.5L1380.4 48.5M1373.4 48.5L1380.4 41.5"/><path d="M1373.4 67.6L1380.4 74.6M1373.4 74.6L1380.4 67.6"/><path d="M1373.4 246.5L1380.4 253.5M1373.4 253.5L1380.4 246.5"/><path d="M1373.4 253.5L1380.4 260.5M1373.4 260.5L1380.4 253.5"/><path d="M1373.4 277.5L1380.4 284.5M1373.4 284.5L1380.4 277.5"/><path d="M1373.4 280.5L1380.4 287.5M1373.4 287.5L1380.4 280.5"/><path d="M1373.4 302.5L1380.4 309.5M1373.4 309.5L1380.4 302.5"/><path d="M1373.4 306.5L1380.4 313.5M1373.4 313.5L1380.4 306.5"/><path d="M1373.4 331.7L1380.4 338.7M1373.4 338.7L1380.4 331.7"/>
</g>
<line x1="454.1" y1="1128.9" x2="1037.3" y2="670.1" stroke="#444" stroke-width="1.6"/>
<line x1="454.3" y1="656.6" x2="1037.3" y2="656.6" stroke="#7c7c7c" stroke-width="2.5" stroke-linecap="square"/>
<line x1="1037.3" y1="656.6" x2="1037.3" y2="1177.3" stroke="#5e5e5e" stroke-width="2.0" stroke-linecap="square"/>
<line x1="454.3" y1="1177.3" x2="1037.3" y2="1177.3" stroke="#5a5a5a" stroke-width="2.0" stroke-linecap="square"/>
<line x1="454.3" y1="656.6" x2="454.3" y2="1177.3" stroke="#8e8e8e" stroke-width="3.4" stroke-linecap="square"/>
<line x1="454.1" y1="1177.3" x2="454.1" y2="1186.8" stroke="#555" stroke-width="1.6"/>
<text x="454.1" y="1213.9" text-anchor="middle" font-size="16">1.2</text>
<line x1="540.5" y1="1177.3" x2="540.5" y2="1186.8" stroke="#555" stroke-width="1.6"/>
<text x="540.5" y="1213.9" text-anchor="middle" font-size="16">1.4</text>
<line x1="627.0" y1="1177.3" x2="627.0" y2="1186.8" stroke="#555" stroke-width="1.6"/>
<text x="627.0" y="1213.9" text-anchor="middle" font-size="16">1.6</text>
<line x1="713.4" y1="1177.3" x2="713.4" y2="1186.8" stroke="#555" stroke-width="1.6"/>
<text x="713.4" y="1213.9" text-anchor="middle" font-size="16">1.8</text>
<line x1="799.9" y1="1177.3" x2="799.9" y2="1186.8" stroke="#555" stroke-width="1.6"/>
<text x="799.9" y="1213.9" text-anchor="middle" font-size="16">2.0</text>
<line x1="886.3" y1="1177.3" x2="886.3" y2="1186.8" stroke="#555" stroke-width="1.6"/>
<text x="886.3" y="1213.9" text-anchor="middle" font-size="16">2.2</text>
<line x1="972.7" y1="1177.3" x2="972.7" y2="1186.8" stroke="#555" stroke-width="1.6"/>
<text x="972.7" y="1213.9" text-anchor="middle" font-size="16">2.4</text>
<line x1="444.0" y1="1128.9" x2="454.3" y2="1128.9" stroke="#555" stroke-width="1.6"/>
<text transform="translate(430.5 1128.9) rotate(-90)" text-anchor="middle" font-size="16">1.2</text>
<line x1="444.0" y1="1060.9" x2="454.3" y2="1060.9" stroke="#555" stroke-width="1.6"/>
<text transform="translate(430.5 1060.9) rotate(-90)" text-anchor="middle" font-size="16">1.4</text>
<line x1="444.0" y1="992.9" x2="454.3" y2="992.9" stroke="#555" stroke-width="1.6"/>
<text transform="translate(430.5 992.9) rotate(-90)" text-anchor="middle" font-size="16">1.6</text>
<line x1="444.0" y1="924.9" x2="454.3" y2="924.9" stroke="#555" stroke-width="1.6"/>
<text transform="translate(430.5 924.9) rotate(-90)" text-anchor="middle" font-size="16">1.8</text>
<line x1="444.0" y1="856.9" x2="454.3" y2="856.9" stroke="#555" stroke-width="1.6"/>
<text transform="translate(430.5 856.9) rotate(-90)" text-anchor="middle" font-size="16">2.0</text>
<line x1="444.0" y1="788.9" x2="454.3" y2="788.9" stroke="#555" stroke-width="1.6"/>
<text transform="translate(430.5 788.9) rotate(-90)" text-anchor="middle" font-size="16">2.2</text>
<line x1="444.0" y1="720.9" x2="454.3" y2="720.9" stroke="#555" stroke-width="1.6"/>
<text transform="translate(430.5 720.9) rotate(-90)" text-anchor="middle" font-size="16">2.4</text>
<text x="745.8" y="1255.3" text-anchor="middle" font-size="16.5">True Mean</text>
<text transform="translate(390.7 916.2) rotate(-90)" text-anchor="middle" font-size="17.1">Estimator Mean</text>
<line x1="576.0" y1="656.6" x2="576.0" y2="777.0" stroke="#707070" stroke-width="2.6" stroke-linecap="square"/>
<line x1="454.3" y1="777.0" x2="576.0" y2="777.0" stroke="#6a6a6a" stroke-width="2.4" stroke-linecap="square"/>
<text x="459.6" y="677.8" font-size="17">EF Distribution</text>
<g fill="none" stroke="#2a2a2a" stroke-width="1.25">
<circle cx="469.5" cy="697.9" r="3.50"/>
<path d="M469.5 712.9L474.2 721.0L464.8 721.0Z"/>
<path d="M464.6 738.7H474.4M469.5 733.8V743.6"/>
<path d="M466.0 755.6L473.0 762.6M466.0 762.6L473.0 755.6"/>
</g>
<text x="484.5" y="704.5" font-size="16.5">Constant</text>
<text x="484.5" y="724.9" font-size="16.5">Normal</text>
<text x="484.5" y="745.3" font-size="16.5">Gradient</text>
<text x="484.5" y="765.7" font-size="16.5">Log-normal</text>
<g fill="none" stroke="#0c0c0c" stroke-width="1.4">
<circle cx="476.2" cy="1140.0" r="3.50"/><path d="M472.7 1136.5L479.7 1143.5M472.7 1143.5L479.7 1136.5"/><path d="M476.2 1136.1L480.9 1144.2L471.5 1144.2Z"/><path d="M471.3 1143.0H481.1M476.2 1138.1V1147.9"/><path d="M472.7 1139.5L479.7 1146.5M472.7 1146.5L479.7 1139.5"/><circle cx="476.2" cy="1144.5" r="3.50"/><path d="M476.2 1140.6L480.9 1148.7L471.5 1148.7Z"/><path d="M472.7 1142.5L479.7 1149.5M472.7 1149.5L479.7 1142.5"/><path d="M471.3 1147.5H481.1M476.2 1142.6V1152.4"/><circle cx="476.2" cy="1149.0" r="3.50"/><path d="M472.7 1145.5L479.7 1152.5M472.7 1152.5L479.7 1145.5"/><path d="M476.2 1145.1L480.9 1153.2L471.5 1153.2Z"/><path d="M471.3 1152.0H481.1M476.2 1147.1V1156.9"/><path d="M472.7 1148.5L479.7 1155.5M472.7 1155.5L479.7 1148.5"/><circle cx="476.2" cy="1153.5" r="3.50"/><circle cx="476.2" cy="1120.0" r="3.50"/><circle cx="476.2" cy="1139.0" r="3.50"/><circle cx="476.2" cy="1142.0" r="3.50"/><circle cx="476.2" cy="1145.0" r="3.50"/><circle cx="476.2" cy="1148.0" r="3.50"/><circle cx="476.2" cy="1151.0" r="3.50"/><path d="M476.2 1115.6L480.9 1123.7L471.5 1123.7Z"/><path d="M476.2 1116.8L480.9 1124.9L471.5 1124.9Z"/><path d="M476.2 1132.0L480.9 1140.1L471.5 1140.1Z"/><path d="M476.2 1134.6L480.9 1142.7L471.5 1142.7Z"/><path d="M476.2 1137.6L480.9 1145.7L471.5 1145.7Z"/><path d="M476.2 1140.6L480.9 1148.7L471.5 1148.7Z"/><path d="M471.3 1123.9H481.1M476.2 1119.0V1128.8"/><path d="M471.3 1140.0H481.1M476.2 1135.1V1144.9"/><path d="M471.3 1144.0H481.1M476.2 1139.1V1148.9"/><path d="M471.3 1148.0H481.1M476.2 1143.1V1152.9"/><path d="M471.3 1152.0H481.1M476.2 1147.1V1156.9"/><path d="M472.7 1119.5L479.7 1126.5M472.7 1126.5L479.7 1119.5"/><path d="M472.7 1143.5L479.7 1150.5M472.7 1150.5L479.7 1143.5"/><path d="M472.7 1146.5L479.7 1153.5M472.7 1153.5L479.7 1146.5"/><path d="M472.7 1149.5L479.7 1156.5M472.7 1156.5L479.7 1149.5"/><path d="M472.7 1152.0L479.7 1159.0M472.7 1159.0L479.7 1152.0"/><path d="M472.7 1154.5L479.7 1161.5M472.7 1161.5L479.7 1154.5"/>
<circle cx="583.8" cy="1084.0" r="3.50"/><path d="M580.3 1080.5L587.3 1087.5M580.3 1087.5L587.3 1080.5"/><path d="M583.8 1080.1L588.5 1088.2L579.1 1088.2Z"/><path d="M578.9 1087.0H588.7M583.8 1082.1V1091.9"/><path d="M580.3 1083.5L587.3 1090.5M580.3 1090.5L587.3 1083.5"/><circle cx="583.8" cy="1088.5" r="3.50"/><path d="M583.8 1084.6L588.5 1092.7L579.1 1092.7Z"/><path d="M580.3 1086.5L587.3 1093.5M580.3 1093.5L587.3 1086.5"/><path d="M578.9 1091.5H588.7M583.8 1086.6V1096.4"/><circle cx="583.8" cy="1093.0" r="3.50"/><path d="M580.3 1089.5L587.3 1096.5M580.3 1096.5L587.3 1089.5"/><path d="M583.8 1089.1L588.5 1097.2L579.1 1097.2Z"/><path d="M578.9 1096.0H588.7M583.8 1091.1V1100.9"/><path d="M580.3 1092.5L587.3 1099.5M580.3 1099.5L587.3 1092.5"/><circle cx="583.8" cy="1097.5" r="3.50"/><path d="M583.8 1093.6L588.5 1101.7L579.1 1101.7Z"/><path d="M580.3 1095.5L587.3 1102.5M580.3 1102.5L587.3 1095.5"/><path d="M578.9 1100.5H588.7M583.8 1095.6V1105.4"/><circle cx="583.8" cy="1102.0" r="3.50"/><path d="M580.3 1098.5L587.3 1105.5M580.3 1105.5L587.3 1098.5"/><circle cx="583.8" cy="1074.0" r="3.50"/><circle cx="583.8" cy="1077.0" r="3.50"/><circle cx="583.8" cy="1082.0" r="3.50"/><circle cx="583.8" cy="1086.0" r="3.50"/><circle cx="583.8" cy="1090.0" r="3.50"/><circle cx="583.8" cy="1094.0" r="3.50"/><circle cx="583.8" cy="1098.0" r="3.50"/><path d="M583.8 1033.5L588.5 1041.6L579.1 1041.6Z"/><path d="M583.8 1034.6L588.5 1042.7L579.1 1042.7Z"/><path d="M583.8 1066.8L588.5 1074.9L579.1 1074.9Z"/><path d="M583.8 1069.6L588.5 1077.7L579.1 1077.7Z"/><path d="M583.8 1077.6L588.5 1085.7L579.1 1085.7Z"/><path d="M583.8 1080.6L588.5 1088.7L579.1 1088.7Z"/><path d="M583.8 1084.6L588.5 1092.7L579.1 1092.7Z"/><path d="M583.8 1088.6L588.5 1096.7L579.1 1096.7Z"/><path d="M578.9 1042.5H588.7M583.8 1037.6V1047.4"/><path d="M578.9 1048.0H588.7M583.8 1043.1V1052.9"/><path d="M578.9 1084.0H588.7M583.8 1079.1V1088.9"/><path d="M578.9 1088.0H588.7M583.8 1083.1V1092.9"/><path d="M578.9 1092.0H588.7M583.8 1087.1V1096.9"/><path d="M578.9 1096.0H588.7M583.8 1091.1V1100.9"/><path d="M578.9 1100.0H588.7M583.8 1095.1V1104.9"/><path d="M580.3 1088.5L587.3 1095.5M580.3 1095.5L587.3 1088.5"/><path d="M580.3 1092.5L587.3 1099.5M580.3 1099.5L587.3 1092.5"/><path d="M580.3 1096.5L587.3 1103.5M580.3 1103.5L587.3 1096.5"/><path d="M580.3 1100.5L587.3 1107.5M580.3 1107.5L587.3 1100.5"/><path d="M580.3 1106.5L587.3 1113.5M580.3 1113.5L587.3 1106.5"/><path d="M580.3 1112.0L587.3 1119.0M580.3 1119.0L587.3 1112.0"/>
<circle cx="799.7" cy="962.0" r="3.50"/><path d="M796.2 958.5L803.2 965.5M796.2 965.5L803.2 958.5"/><path d="M799.7 959.6L804.4 967.7L795.0 967.7Z"/><path d="M794.8 968.0H804.6M799.7 963.1V972.9"/><path d="M796.2 964.5L803.2 971.5M796.2 971.5L803.2 964.5"/><circle cx="799.7" cy="971.0" r="3.50"/><path d="M799.7 968.6L804.4 976.7L795.0 976.7Z"/><path d="M796.2 970.5L803.2 977.5M796.2 977.5L803.2 970.5"/><path d="M794.8 977.0H804.6M799.7 972.1V981.9"/><circle cx="799.7" cy="980.0" r="3.50"/><path d="M796.2 976.5L803.2 983.5M796.2 983.5L803.2 976.5"/><path d="M799.7 977.6L804.4 985.7L795.0 985.7Z"/><circle cx="799.7" cy="944.0" r="3.50"/><circle cx="799.7" cy="948.0" r="3.50"/><circle cx="799.7" cy="954.0" r="3.50"/><circle cx="799.7" cy="960.0" r="3.50"/><circle cx="799.7" cy="966.0" r="3.50"/><circle cx="799.7" cy="972.0" r="3.50"/><circle cx="799.7" cy="978.0" r="3.50"/><circle cx="799.7" cy="989.0" r="3.50"/><path d="M799.7 858.3L804.4 866.4L795.0 866.4Z"/><path d="M799.7 915.6L804.4 923.7L795.0 923.7Z"/><path d="M799.7 917.1L804.4 925.2L795.0 925.2Z"/><path d="M799.7 946.6L804.4 954.7L795.0 954.7Z"/><path d="M799.7 952.6L804.4 960.7L795.0 960.7Z"/><path d="M799.7 958.6L804.4 966.7L795.0 966.7Z"/><path d="M799.7 964.6L804.4 972.7L795.0 972.7Z"/><path d="M799.7 970.6L804.4 978.7L795.0 978.7Z"/><path d="M794.8 875.0H804.6M799.7 870.1V879.9"/><path d="M794.8 878.5H804.6M799.7 873.6V883.4"/><path d="M794.8 884.0H804.6M799.7 879.1V888.9"/><path d="M794.8 928.8H804.6M799.7 923.9V933.7"/><path d="M794.8 934.7H804.6M799.7 929.8V939.6"/><path d="M794.8 956.0H804.6M799.7 951.1V960.9"/><path d="M794.8 962.0H804.6M799.7 957.1V966.9"/><path d="M794.8 968.0H804.6M799.7 963.1V972.9"/><path d="M794.8 974.0H804.6M799.7 969.1V978.9"/><path d="M794.8 980.0H804.6M799.7 975.1V984.9"/><path d="M794.8 983.0H804.6M799.7 978.1V987.9"/><path d="M796.2 869.5L803.2 876.5M796.2 876.5L803.2 869.5"/><path d="M796.2 873.0L803.2 880.0M796.2 880.0L803.2 873.0"/><path d="M796.2 954.5L803.2 961.5M796.2 961.5L803.2 954.5"/><path d="M796.2 962.5L803.2 969.5M796.2 969.5L803.2 962.5"/><path d="M796.2 970.5L803.2 977.5M796.2 977.5L803.2 970.5"/><path d="M796.2 978.5L803.2 985.5M796.2 985.5L803.2 978.5"/><path d="M796.2 991.5L803.2 998.5M796.2 998.5L803.2 991.5"/><path d="M796.2 996.0L803.2 1003.0M796.2 1003.0L803.2 996.0"/><path d="M796.2 1012.5L803.2 1019.5M796.2 1019.5L803.2 1012.5"/><path d="M796.2 1013.7L803.2 1020.7M796.2 1020.7L803.2 1013.7"/>
<circle cx="1016.1" cy="786.0" r="3.50"/><path d="M1012.6 782.5L1019.6 789.5M1012.6 789.5L1019.6 782.5"/><path d="M1016.1 784.1L1020.8 792.2L1011.4 792.2Z"/><path d="M1011.2 793.0H1021.0M1016.1 788.1V797.9"/><path d="M1012.6 789.5L1019.6 796.5M1012.6 796.5L1019.6 789.5"/><circle cx="1016.1" cy="796.5" r="3.50"/><path d="M1016.1 794.6L1020.8 802.7L1011.4 802.7Z"/><path d="M1012.6 796.5L1019.6 803.5M1012.6 803.5L1019.6 796.5"/><path d="M1011.2 803.5H1021.0M1016.1 798.6V808.4"/><circle cx="1016.1" cy="807.0" r="3.50"/><path d="M1012.6 803.5L1019.6 810.5M1012.6 810.5L1019.6 803.5"/><path d="M1016.1 805.1L1020.8 813.2L1011.4 813.2Z"/><circle cx="1016.1" cy="697.6" r="3.50"/><circle cx="1016.1" cy="770.0" r="3.50"/><circle cx="1016.1" cy="787.0" r="3.50"/><circle cx="1016.1" cy="791.0" r="3.50"/><circle cx="1016.1" cy="795.0" r="3.50"/><circle cx="1016.1" cy="799.0" r="3.50"/><circle cx="1016.1" cy="803.0" r="3.50"/><circle cx="1016.1" cy="843.0" r="3.50"/><circle cx="1016.1" cy="848.0" r="3.50"/><circle cx="1016.1" cy="853.0" r="3.50"/><circle cx="1016.1" cy="858.0" r="3.50"/><circle cx="1016.1" cy="861.0" r="3.50"/><path d="M1016.1 670.6L1020.8 678.7L1011.4 678.7Z"/><path d="M1016.1 677.6L1020.8 685.7L1011.4 685.7Z"/><path d="M1016.1 762.6L1020.8 770.7L1011.4 770.7Z"/><path d="M1016.1 764.8L1020.8 772.9L1011.4 772.9Z"/><path d="M1016.1 784.6L1020.8 792.7L1011.4 792.7Z"/><path d="M1016.1 790.6L1020.8 798.7L1011.4 798.7Z"/><path d="M1016.1 796.6L1020.8 804.7L1011.4 804.7Z"/><path d="M1016.1 802.6L1020.8 810.7L1011.4 810.7Z"/><path d="M1016.1 806.6L1020.8 814.7L1011.4 814.7Z"/><path d="M1016.1 840.6L1020.8 848.7L1011.4 848.7Z"/><path d="M1016.1 846.6L1020.8 854.7L1011.4 854.7Z"/><path d="M1016.1 852.6L1020.8 860.7L1011.4 860.7Z"/><path d="M1011.2 708.0H1021.0M1016.1 703.1V712.9"/><path d="M1011.2 712.0H1021.0M1016.1 707.1V716.9"/><path d="M1011.2 800.0H1021.0M1016.1 795.1V804.9"/><path d="M1011.2 806.0H1021.0M1016.1 801.1V810.9"/><path d="M1011.2 812.0H1021.0M1016.1 807.1V816.9"/><path d="M1011.2 829.0H1021.0M1016.1 824.1V833.9"/><path d="M1011.2 835.0H1021.0M1016.1 830.1V839.9"/><path d="M1012.6 712.0L1019.6 719.0M1012.6 719.0L1019.6 712.0"/><path d="M1012.6 817.5L1019.6 824.5M1012.6 824.5L1019.6 817.5"/><path d="M1012.6 821.0L1019.6 828.0M1012.6 828.0L1019.6 821.0"/><path d="M1012.6 827.5L1019.6 834.5M1012.6 834.5L1019.6 827.5"/><path d="M1012.6 852.5L1019.6 859.5M1012.6 859.5L1019.6 852.5"/><path d="M1012.6 858.5L1019.6 865.5M1012.6 865.5L1019.6 858.5"/><path d="M1012.6 867.5L1019.6 874.5M1012.6 874.5L1019.6 867.5"/><path d="M1012.6 872.5L1019.6 879.5M1012.6 879.5L1019.6 872.5"/><path d="M1012.6 900.0L1019.6 907.0M1012.6 907.0L1019.6 900.0"/><path d="M1012.6 902.5L1019.6 909.5M1012.6 909.5L1019.6 902.5"/>
</g>
</g>
<g fill="#000" font-size="28.7" font-family="Liberation Sans, Arial, Helvetica, sans-serif">
<text x="-1.7" y="27.0">(<tspan font-style="italic">a</tspan>)</text>
<text x="716.1" y="21.0">(<tspan font-style="italic">b</tspan>)</text>
<text x="380.2" y="667.6">(<tspan font-style="italic">c</tspan>)</text>
</g>
</svg>
</body></html>
